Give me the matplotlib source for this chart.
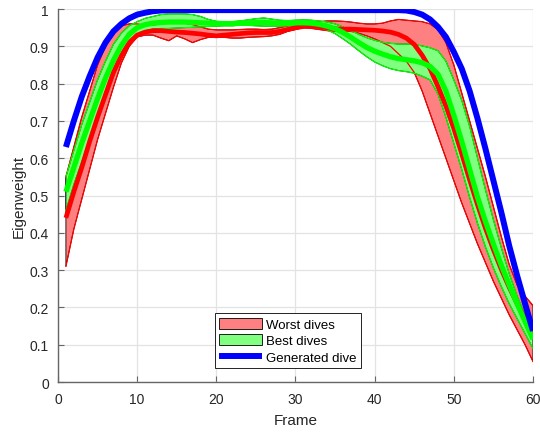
import numpy as np
import matplotlib
matplotlib.use("Agg")
import matplotlib.pyplot as plt

plt.rcParams['font.family'] = ['Liberation Sans', 'DejaVu Sans']

frames = np.arange(1, 61)

worst_lo = [0.31, 0.41, 0.49, 0.57, 0.65, 0.72, 0.79, 0.855, 0.90, 0.925,
            0.93, 0.93, 0.922, 0.915, 0.928, 0.92, 0.91, 0.918, 0.924, 0.924,
            0.924, 0.922, 0.922, 0.924, 0.925, 0.926, 0.928, 0.932, 0.94, 0.945,
            0.95, 0.948, 0.945, 0.942, 0.94, 0.94, 0.94, 0.935, 0.928, 0.92,
            0.91, 0.90, 0.88, 0.86, 0.83, 0.78, 0.72, 0.66, 0.60, 0.54,
            0.48, 0.425, 0.37, 0.32, 0.27, 0.225, 0.18, 0.14, 0.10, 0.055]
worst_hi = [0.55, 0.63, 0.71, 0.78, 0.85, 0.90, 0.935, 0.955, 0.96, 0.96,
            0.957, 0.957, 0.96, 0.963, 0.964, 0.962, 0.958, 0.952, 0.946, 0.944,
            0.944, 0.944, 0.945, 0.946, 0.946, 0.945, 0.946, 0.95, 0.955, 0.96,
            0.963, 0.965, 0.966, 0.968, 0.968, 0.967, 0.965, 0.962, 0.96, 0.96,
            0.962, 0.968, 0.972, 0.97, 0.968, 0.966, 0.96, 0.945, 0.91, 0.85,
            0.775, 0.70, 0.625, 0.55, 0.47, 0.39, 0.315, 0.26, 0.23, 0.205]
worst_mean = [0.44, 0.51, 0.575, 0.645, 0.71, 0.77, 0.83, 0.875, 0.91, 0.93,
              0.938, 0.942, 0.942, 0.94, 0.938, 0.937, 0.935, 0.933, 0.93, 0.928,
              0.93, 0.932, 0.934, 0.936, 0.937, 0.937, 0.937, 0.94, 0.945, 0.95,
              0.953, 0.955, 0.953, 0.95, 0.947, 0.946, 0.946, 0.945, 0.944, 0.943,
              0.941, 0.938, 0.932, 0.922, 0.905, 0.876, 0.84, 0.792, 0.74, 0.68,
              0.612, 0.542, 0.475, 0.412, 0.355, 0.302, 0.254, 0.21, 0.17, 0.13]

best_lo = [0.46, 0.53, 0.59, 0.65, 0.71, 0.77, 0.82, 0.868, 0.905, 0.93,
           0.942, 0.946, 0.948, 0.948, 0.949, 0.95, 0.951, 0.952, 0.953, 0.954,
           0.955, 0.955, 0.956, 0.956, 0.955, 0.954, 0.954, 0.954, 0.955, 0.956,
           0.956, 0.954, 0.95, 0.944, 0.934, 0.92, 0.905, 0.888, 0.872, 0.858,
           0.848, 0.84, 0.835, 0.832, 0.828, 0.82, 0.81, 0.772, 0.71, 0.64,
           0.57, 0.495, 0.425, 0.362, 0.306, 0.256, 0.21, 0.17, 0.13, 0.09]
best_hi = [0.55, 0.62, 0.69, 0.75, 0.81, 0.86, 0.905, 0.935, 0.955, 0.966,
           0.975, 0.98, 0.985, 0.987, 0.987, 0.987, 0.985, 0.98, 0.972, 0.967,
           0.966, 0.966, 0.968, 0.971, 0.974, 0.976, 0.973, 0.97, 0.969, 0.97,
           0.971, 0.97, 0.968, 0.965, 0.96, 0.952, 0.942, 0.932, 0.923, 0.916,
           0.911, 0.908, 0.906, 0.906, 0.905, 0.901, 0.896, 0.888, 0.86, 0.81,
           0.755, 0.685, 0.60, 0.515, 0.435, 0.36, 0.29, 0.23, 0.18, 0.13]
best_mean = [0.51, 0.575, 0.64, 0.70, 0.76, 0.815, 0.862, 0.902, 0.932, 0.95,
             0.958, 0.962, 0.964, 0.965, 0.965, 0.965, 0.964, 0.963, 0.962, 0.961,
             0.961, 0.961, 0.962, 0.963, 0.964, 0.964, 0.963, 0.962, 0.962, 0.963,
             0.963, 0.962, 0.959, 0.954, 0.947, 0.937, 0.924, 0.91, 0.897, 0.887,
             0.879, 0.872, 0.867, 0.864, 0.861, 0.856, 0.846, 0.825, 0.78, 0.715,
             0.645, 0.57, 0.495, 0.43, 0.37, 0.313, 0.26, 0.21, 0.162, 0.115]

generated = [0.63, 0.70, 0.765, 0.82, 0.87, 0.91, 0.94, 0.96, 0.975, 0.985,
             0.99, 0.994, 0.996, 0.997, 0.997, 0.997, 0.997, 0.997, 0.997, 0.997,
             0.997, 0.997, 0.997, 0.997, 0.997, 0.997, 0.997, 0.997, 0.997, 0.997,
             0.997, 0.997, 0.997, 0.997, 0.997, 0.997, 0.997, 0.997, 0.997, 0.997,
             0.997, 0.997, 0.997, 0.996, 0.992, 0.985, 0.972, 0.952, 0.925, 0.885,
             0.84, 0.78, 0.706, 0.625, 0.54, 0.455, 0.365, 0.285, 0.21, 0.137]

series_labels = ["Worst dives", "Best dives", "Generated dive"]

fig = plt.figure(figsize=(5.4, 4.35), dpi=100)
ax = fig.add_axes([0.1074, 0.1195, 0.8796, 0.8575])


def band(lo, hi, fill_col, edge_col, label):
    lo = np.asarray(lo)
    hi = np.asarray(hi)
    xs = np.concatenate([frames, frames[::-1]])
    ys = np.concatenate([hi, lo[::-1]])
    patch = ax.fill(xs, ys, facecolor=fill_col, edgecolor='k', linewidth=0.6,
                    label=label, zorder=2)[0]
    ax.plot(frames, lo, color=edge_col, lw=0.9, zorder=2.1)
    ax.plot(frames, hi, color=edge_col, lw=0.9, zorder=2.1)
    return patch


h_worst = band(worst_lo, worst_hi, '#ff8080', '#ff0000', series_labels[0])
h_best = band(best_lo, best_hi, '#80ff80', '#00ff00', series_labels[1])
ax.plot(frames, worst_mean, color='#ff0000', lw=3.4, zorder=3,
        solid_capstyle='butt')
ax.plot(frames, best_mean, color='#00ff00', lw=3.8, zorder=3.1,
        solid_capstyle='butt')
h_gen, = ax.plot(frames, generated, color='#0000ff', lw=4.3, zorder=4,
                 solid_capstyle='butt', label=series_labels[2])

ax.set_xlim(0, 60)
ax.set_ylim(0, 1)
ax.set_xticks(np.arange(0, 61, 10))
ax.set_yticks(np.arange(0, 1.01, 0.1))
ax.set_yticklabels(['0', '0.1', '0.2', '0.3', '0.4', '0.5', '0.6', '0.7',
                    '0.8', '0.9', '1'])
ax.grid(True, color='#e3e3e3', lw=0.9, zorder=0)
ax.set_axisbelow(True)
for side in ('top', 'right'):
    ax.spines[side].set_visible(False)
for side in ('left', 'bottom'):
    ax.spines[side].set_color('#666666')
    ax.spines[side].set_linewidth(1.0)
ax.tick_params(direction='in', length=4, width=0.8, color='#666666',
               labelsize=10, labelcolor='#262626')
ax.tick_params(axis='x', pad=7.5)
ax.tick_params(axis='y', pad=6.5)
ax.set_xlabel('Frame', fontsize=11, color='#262626', labelpad=5)
ax.set_ylabel('Eigenweight', fontsize=11, color='#262626', labelpad=3)

leg = ax.legend(handles=[h_worst, h_best, h_gen], loc='lower left',
                bbox_to_anchor=(0.33, 0.037), fontsize=9.5, frameon=True,
                fancybox=False, framealpha=1, edgecolor='k',
                handlelength=3.2, handleheight=0.9, handletextpad=0.3,
                borderpad=0.35, labelspacing=0.25, borderaxespad=0)
leg.get_frame().set_linewidth(0.6)
leg.set_zorder(10)

fig.savefig('out.png', dpi=100)
